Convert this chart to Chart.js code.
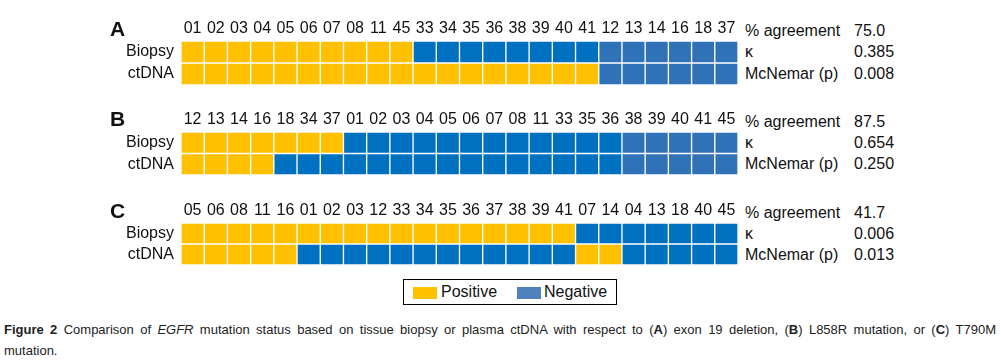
<!DOCTYPE html>
<html>
<head>
<meta charset="utf-8">
<script src="https://cdn.jsdelivr.net/npm/chart.js@4.4.1/dist/chart.umd.min.js"></script>
<style>
  body { margin: 0; background: #fff; font-family: "Liberation Sans", Arial, sans-serif; color: #111; }
  #wrap { position: relative; width: 1001px; height: 362px; overflow: hidden; }
  canvas { position: absolute; left: 100px; }
  .t { position: absolute; font-size: 16px; line-height: 20px; white-space: nowrap; }
  .letter { position: absolute; font-size: 21px; font-weight: bold; line-height: 24px; left: 110px; }
  #legend { position: absolute; left: 403px; top: 279px; width: 212px; height: 24px; border: 1px solid #000; }
  .sw { position: absolute; top: 7px; width: 24px; height: 12px; }
  .caption { position: absolute; left: 4px; width: 992px; font-family: "Liberation Sans Narrow", "Liberation Sans", sans-serif; font-size: 13px; color: #222; }
</style>
</head>
<body>
<div id="wrap">
  <canvas id="chartA" width="638" height="75" style="top:10px"></canvas>
  <canvas id="chartB" width="638" height="74" style="top:101px"></canvas>
  <canvas id="chartC" width="638" height="73" style="top:192px"></canvas>

  <div class="letter" style="top:17px">A</div>
  <div class="letter" style="top:107px">B</div>
  <div class="letter" style="top:199px">C</div>

  <div id="stats"></div>

  <div id="legend">
    <div class="sw" style="left:9px;background:#FFC000"></div>
    <div class="t" style="left:37px;top:2px">Positive</div>
    <div class="sw" style="left:113px;background:#4F81BD"></div>
    <div class="t" style="left:140px;top:2px">Negative</div>
  </div>

  <div class="caption" style="top:322px;text-align:justify;text-align-last:justify"><b>Figure 2</b> Comparison of <i>EGFR</i> mutation status based on tissue biopsy or plasma ctDNA with respect to (<b>A</b>) exon 19 deletion, (<b>B</b>) L858R mutation, or (<b>C</b>) T790M</div>
  <div class="caption" style="top:343px">mutation.</div>
</div>

<script>
// patient ids, in display order
var idsA = ["01","02","03","04","05","06","07","08","11","45","33","34","35","36","38","39","40","41","12","13","14","16","18","37"];
var idsB = ["12","13","14","16","18","34","37","01","02","03","04","05","06","07","08","11","33","35","36","38","39","40","41","45"];
var idsC = ["05","06","08","11","16","01","02","03","12","33","34","35","36","37","38","39","41","07","14","04","13","18","40","45"];

// 1 = positive, 0 = negative
var biopsyA = [1,1,1,1,1,1,1,1,1,1,0,0,0,0,0,0,0,0,0,0,0,0,0,0];
var ctdnaA  = [1,1,1,1,1,1,1,1,1,1,1,1,1,1,1,1,1,1,0,0,0,0,0,0];
var biopsyB = [1,1,1,1,1,1,1,0,0,0,0,0,0,0,0,0,0,0,0,0,0,0,0,0];
var ctdnaB  = [1,1,1,1,0,0,0,0,0,0,0,0,0,0,0,0,0,0,0,0,0,0,0,0];
var biopsyC = [1,1,1,1,1,1,1,1,1,1,1,1,1,1,1,1,1,0,0,0,0,0,0,0];
var ctdnaC  = [1,1,1,1,1,0,0,0,0,0,0,0,0,0,0,0,0,1,1,0,0,0,0,0];

// index where the concordant-negative block starts (drawn in the softer blue)
var groupStartA = 18;
var groupStartB = 19;
var groupStartC = 24;

var statNames = ["% agreement", "\u03ba", "McNemar (p)"];
var statsA = ["75.0", "0.385", "0.008"];
var statsB = ["87.5", "0.654", "0.250"];
var statsC = ["41.7", "0.006", "0.013"];

var yellow = "#FFC000";
var blue = "#0070C0";
var softBlue = "#2F72B7";

function cellColors(vals, groupStart) {
    return vals.map(function(v, i) {
        if (v === 1) return yellow;
        return i >= groupStart ? softBlue : blue;
    });
}

function makePanel(id, ids, biopsy, ctdna, groupStart) {
    var barStyle = {
        barPercentage: 1,
        categoryPercentage: 1,
        borderWidth: 1,
        borderColor: "rgba(255,255,255,0.85)",
        borderSkipped: false
    };
    return new Chart(document.getElementById(id), {
        type: "bar",
        data: {
            labels: ids,
            datasets: [
                Object.assign({ label: "ctDNA", data: ctdna.map(function() { return 1; }),
                    backgroundColor: cellColors(ctdna, groupStart) }, barStyle),
                Object.assign({ label: "Biopsy", data: biopsy.map(function() { return 1; }),
                    backgroundColor: cellColors(biopsy, groupStart) }, barStyle)
            ]
        },
        options: {
            responsive: false,
            animation: false,
            layout: { padding: 0 },
            plugins: { legend: { display: false }, tooltip: { enabled: false } },
            scales: {
                x: {
                    position: "top",
                    stacked: true,
                    grid: { display: false, drawTicks: false },
                    border: { display: false },
                    ticks: { color: "#111", font: { family: "Liberation Sans", size: 16 }, padding: 3, maxRotation: 0, autoSkip: false },
                    afterFit: function(s) { s.height = 31; s.paddingLeft = 0; s.paddingRight = 0; }
                },
                y: {
                    stacked: true,
                    min: 0, max: 2,
                    grid: { display: false, drawTicks: false },
                    border: { display: false },
                    afterBuildTicks: function(s) { s.ticks = [{ value: 0.5 }, { value: 1.5 }]; },
                    ticks: {
                        autoSkip: false,
                        color: "#111",
                        font: { family: "Liberation Sans", size: 16 },
                        padding: 7,
                        callback: function(v) { return v > 1 ? "Biopsy" : "ctDNA"; }
                    },
                    afterFit: function(s) { s.width = 81; s.paddingTop = 0; s.paddingBottom = 0; }
                }
            }
        }
    });
}

makePanel("chartA", idsA, biopsyA, ctdnaA, groupStartA);
makePanel("chartB", idsB, biopsyB, ctdnaB, groupStartB);
makePanel("chartC", idsC, biopsyC, ctdnaC, groupStartC);

// statistics beside each panel: header row, then one per data row
var statsBox = document.getElementById("stats");
function addStats(values, gridTop, rowH) {
    var centers = [gridTop - 10, gridTop + rowH / 2, gridTop + rowH * 1.5];
    for (var i = 0; i < 3; i++) {
        var n = document.createElement("div");
        n.className = "t";
        n.style.left = "745px";
        n.style.top = (centers[i] - 10) + "px";
        n.textContent = statNames[i];
        statsBox.appendChild(n);
        var v = document.createElement("div");
        v.className = "t";
        v.style.left = "854px";
        v.style.top = (centers[i] - 10) + "px";
        v.textContent = values[i];
        statsBox.appendChild(v);
    }
}
addStats(statsA, 41, 22);
addStats(statsB, 132, 21.5);
addStats(statsC, 223, 21);
</script>
</body>
</html>
